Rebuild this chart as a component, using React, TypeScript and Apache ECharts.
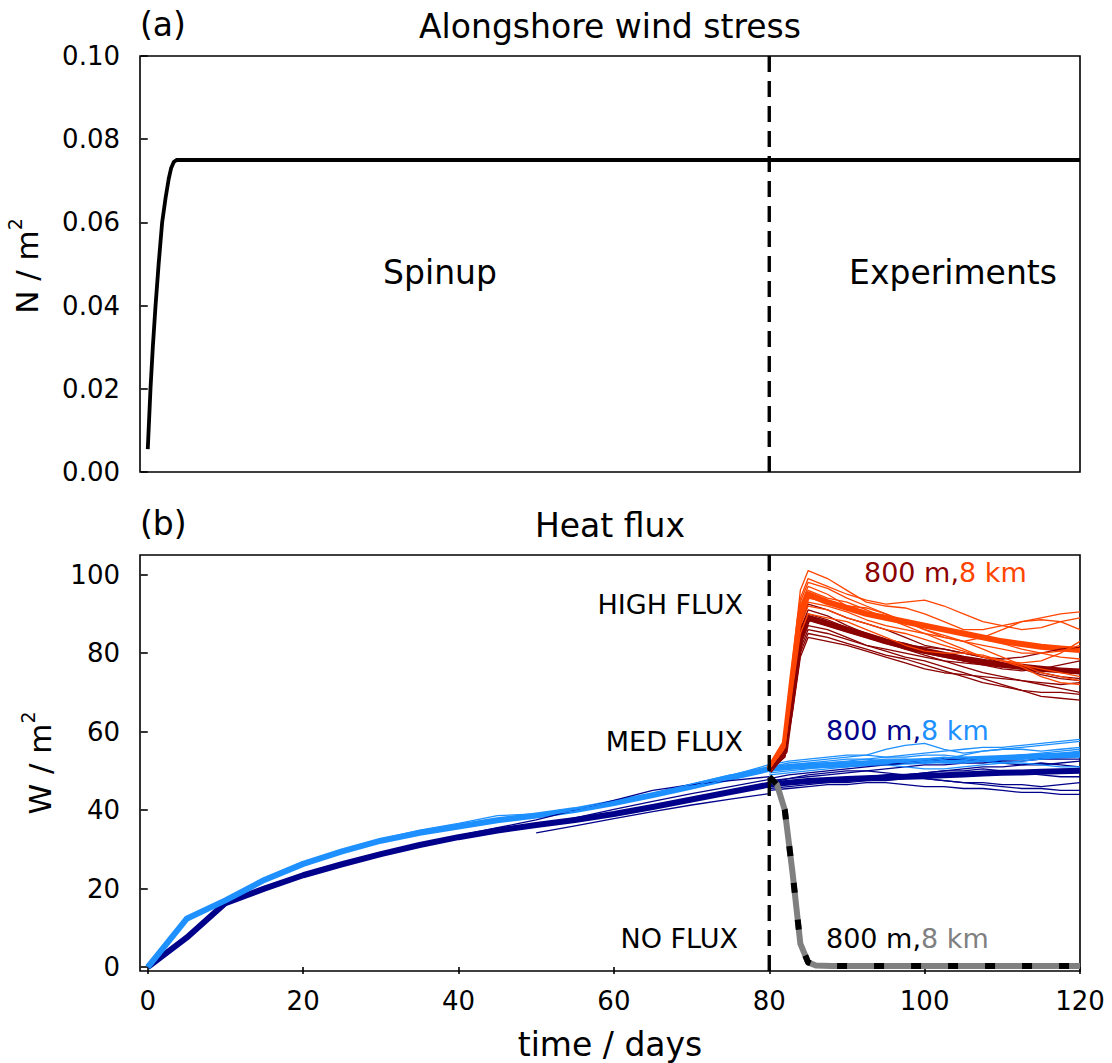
import React, { useEffect, useRef } from "react";
import * as echarts from "echarts";

const FONT = "DejaVu Sans";

// ---------- Panel (a): alongshore wind stress ----------
const windDays = [0, 0.35, 0.65, 1.0, 1.4, 1.85, 2.3, 2.7, 3.0, 3.35, 3.7, 4, 120];
const windStress = [0.0055, 0.02, 0.03, 0.04, 0.05, 0.06, 0.066, 0.0705, 0.073, 0.0745, 0.075, 0.075, 0.075];
const windTicks = [0, 0.02, 0.04, 0.06, 0.08, 0.1];

// ---------- Panel (b): heat flux ----------
const dayTicks = [0, 20, 40, 60, 80, 100, 120];
const fluxTicks = [0, 20, 40, 60, 80, 100];

// spin-up (days 0-80)
const spinDays = [0, 5, 10, 15, 20, 25, 30, 35, 40, 45, 50, 55, 60, 65, 70, 75, 80];
const spin8km = [0, 12.3, 17, 22.2, 26.3, 29.5, 32.2, 34.2, 35.8, 37.4, 38.6, 40, 41.8, 43.8, 46, 48.3, 50.5];
const spin800m = [0, 7.5, 16.3, 20, 23.4, 26.2, 28.8, 31.1, 33.1, 34.8, 36.2, 37.5, 39, 40.8, 42.7, 44.6, 46.5];

const spinDays30 = [30, 35, 40, 45, 50, 55, 60, 65, 70, 75, 80];
const spinDays50 = [50, 55, 60, 65, 70, 75, 80];
const spin8kmA = [32.6, 34.9, 36.6, 38.6, 39, 40.2, 41.6, 43.4, 46, 48.8, 51.6];
const spin8kmB = [32, 34, 36, 37.6, 38.6, 40.3, 42.2, 44.2, 46.6, 49, 50];
const spin8kmC = [38.5, 39.8, 41.5, 43.5, 45.6, 48, 50.2];
const spin800mA = [28.8, 31.3, 33.5, 35.5, 37.5, 40, 42.5, 45, 46.5, 47.5, 48.5];
const spin800mB = [34.2, 36, 37.8, 39.6, 41.3, 42.8, 44.2];
const spin800mC = [28.5, 30.8, 32.8, 34.4, 35.8, 37.2, 38.6, 40.4, 42.4, 44.4, 46];
const spin800mD = [36, 38, 40.2, 42.2, 44.2, 46, 47.8];

// MED FLUX experiments (days 80-120)
const medDays = [80, 82.5, 85, 87.5, 90, 92.5, 95, 97.5, 100, 102.5, 105, 107.5, 110, 112.5, 115, 117.5, 120];
const med8km = [50.5, 51, 51.3, 51.5, 51.7, 51.9, 52.1, 52.3, 52.5, 52.7, 52.9, 53.1, 53.3, 53.5, 53.7, 53.9, 54.1];
const med800m = [46.5, 47, 47.4, 47.7, 47.9, 48.1, 48.3, 48.5, 48.7, 48.9, 49.1, 49.3, 49.5, 49.6, 49.8, 49.9, 50];
const med8kmMembers = [
  [51, 52, 52.5, 53, 53.5, 54, 55.5, 56.5, 57, 55.5, 54.5, 55, 55.5, 56, 56.5, 57, 57.5],
  [50, 51, 51.5, 52, 52.5, 53, 53.5, 54, 54.5, 55, 55.5, 56, 56, 56.5, 57, 57.5, 58],
  [49.5, 50, 50.5, 51, 51, 51.5, 52, 52.5, 53, 53.5, 53, 52.5, 52, 52.5, 53, 53.5, 54],
  [50.5, 51.5, 52, 52.5, 53, 53, 52.5, 52, 52.5, 53, 54, 55, 55.5, 55.5, 55, 55.5, 56],
  [49, 49.5, 50, 50.5, 51, 51.5, 51.5, 51, 50.5, 50.5, 51, 51.5, 52, 52, 51.5, 51, 51],
  [51.5, 52.5, 53, 53.5, 54, 54, 53.5, 53.5, 54, 54, 53.5, 53, 53.5, 54, 54.5, 55, 55.5],
  [50, 50.5, 51, 51.5, 52, 52.5, 53, 53, 52.5, 52, 52, 52.5, 53, 53.5, 54, 54.5, 55],
];
const med800mMembers = [
  [46, 46.5, 47, 47, 47.5, 48, 48, 48.5, 48, 47.5, 47, 46.5, 46, 45.5, 45.5, 45, 45],
  [47, 48, 48.5, 49, 49.5, 50, 50.5, 51, 51.5, 51.5, 52, 52, 52.5, 52.5, 53, 53, 53],
  [45.5, 46, 46.5, 47, 47, 47.5, 47.5, 48, 48, 47.5, 47, 47, 46.5, 46.5, 46, 46.5, 47],
  [47.5, 48, 49, 49.5, 50, 50, 49.5, 49, 49.5, 50, 50.5, 51, 51, 51.5, 52, 51.5, 51],
  [46.5, 47, 47.5, 48, 48, 48.5, 49, 49, 49.5, 50, 50, 50.5, 50, 49.5, 49, 48.5, 48.5],
  [48, 49, 49.5, 50, 50.5, 51, 51.5, 52, 52.5, 53, 53, 52.5, 52, 51.5, 51.5, 52, 52.5],
  [45, 45.5, 46, 46.5, 46.5, 47, 47, 46.5, 46, 46, 45.5, 45.5, 45, 44.5, 44.5, 44, 44],
];

// HIGH FLUX experiments
const highDays = [80, 82, 83, 84, 85, 87.5, 90, 92.5, 95, 97.5, 100, 102.5, 105, 107.5, 110, 112.5, 115, 117.5, 120];
const high8km = [50.5, 57, 74, 90, 95, 93, 91.5, 90, 89, 88, 87, 86, 85, 84, 83, 82.3, 81.6, 81.2, 80.8];
const high800m = [50, 55, 70, 84, 89, 87.5, 86, 84.5, 83, 81.8, 80.6, 79.6, 78.6, 77.8, 77, 76.5, 76, 75.6, 75.3];
const high8kmMembers = [
  [50.5, 58, 78, 96, 101, 99, 96, 93, 92, 91.5, 90, 88, 86, 86, 87, 88, 89, 90, 90.5],
  [50.5, 57, 76, 94, 99, 97, 95, 93.5, 92.5, 93, 93.5, 92, 90, 88, 87, 86, 86.5, 88, 89],
  [50.5, 57, 75, 92, 97, 95, 92, 90, 89, 88, 86, 84, 83, 84, 86, 88, 88.5, 88, 86],
  [50.5, 56.5, 74, 91, 96, 94, 93, 91, 89, 87, 85, 83, 81, 79, 78, 77.5, 78, 80, 83],
  [50.5, 56.5, 73, 89, 94, 93, 92, 91.5, 90, 88, 86, 84.5, 83, 81, 79, 77, 75, 74, 73],
  [50.5, 56, 72, 87, 92, 91, 89, 87.5, 86, 85, 83.5, 82, 80.5, 79, 78, 77, 76, 75, 74],
  [50.5, 56, 71, 85, 90, 89, 88, 86, 84, 82, 80.5, 80, 80, 79.5, 78, 76.5, 74, 72.5, 72],
  [50.5, 57, 76, 93, 98, 96.5, 94, 92, 90, 88, 87, 86, 85, 84, 82.5, 81, 80, 80.5, 82],
  [50.5, 56.5, 73, 88, 93, 92, 90.5, 88.5, 87, 86, 85, 84, 83, 82, 81, 80, 80, 79, 78.5],
];
const high800mMembers = [
  [50, 55, 71, 87, 92.5, 91, 89, 87.5, 86, 84, 82, 81, 80, 79, 78.5, 79, 80, 81, 81.5],
  [50, 55, 70, 86, 91, 89.5, 87, 85, 83.5, 82.5, 81, 79.5, 78, 77, 76, 75.5, 76, 77, 78],
  [50, 54.5, 69, 85, 90, 88.5, 86.5, 85, 83, 81, 79.5, 78, 76.5, 75, 74, 73, 72.5, 72, 72.5],
  [50, 54.5, 68, 83, 88.5, 87, 85.5, 84, 82.5, 81, 80, 79, 78, 77.5, 77, 76, 75, 74, 73.5],
  [50, 54, 67, 82, 87, 86, 84, 82, 80.5, 79, 78, 76.5, 75, 73.5, 72, 70.5, 69, 68.5, 68],
  [50, 54, 67, 81, 86, 85, 83.5, 82, 81, 80, 79, 78, 77.5, 77, 76.5, 76, 75.5, 75.5, 75],
  [50, 53.5, 66, 80, 85, 84, 82.5, 81, 79.5, 78.5, 77, 75.5, 74, 72.5, 71.5, 70.5, 70, 70, 69.5],
  [50, 55, 70, 85, 89.5, 88, 86, 84.5, 83, 82, 81.5, 81, 80, 79, 77.5, 76, 74.5, 73.5, 73],
  [50, 53.5, 65, 79, 84, 83, 82, 80.5, 79, 77.5, 76, 75, 74.5, 74, 73.5, 73, 72, 71, 70],
];

// NO FLUX experiments
const noDays = [80, 81, 82, 83, 84, 85, 86, 88, 120];
const noFlux = [48.5, 46.5, 40, 24, 6, 1.2, 0.4, 0.3, 0.3];

// colours
const C_DARKBLUE = "#00008B";
const C_BLUE = "#1E90FF";
const C_DARKRED = "#8B0000";
const C_ORANGE = "#FF4500";
const C_GRAY = "#808080";

const xy = (xs: number[], ys: number[]) => xs.map((x, i) => [x, ys[i]]);

function ln(grid: number, xs: number[], ys: number[], color: string, width: number, dash?: number[], z = 2) {
  return {
    type: "line",
    xAxisIndex: grid,
    yAxisIndex: grid,
    data: xy(xs, ys),
    symbol: "none",
    showSymbol: false,
    silent: true,
    z,
    clip: true,
    emphasis: { disabled: true },
    lineStyle: {
      color,
      width,
      type: dash ? dash : "solid",
      join: "round",
      cap: "butt",
    },
  };
}

function buildOption() {
  const series: any[] = [];
  // panel a
  series.push(ln(0, windDays, windStress, "#000", 3.8));
  series.push(ln(0, [80, 80], [0, 0.1], "#000", 3.4, [16, 9], 5));

  // panel b: spinup thick
  series.push(ln(1, spinDays, spin800m, C_DARKBLUE, 6));
  series.push(ln(1, spinDays, spin8km, C_BLUE, 6));
  // med thick
  series.push(ln(1, medDays, med800m, C_DARKBLUE, 6));
  series.push(ln(1, medDays, med8km, C_BLUE, 6));
  // spinup thin
  series.push(ln(1, spinDays30, spin800mA, C_DARKBLUE, 1.3));
  series.push(ln(1, spinDays50, spin800mB, C_DARKBLUE, 1.3));
  series.push(ln(1, spinDays30, spin800mC, C_DARKBLUE, 1.3));
  series.push(ln(1, spinDays50, spin800mD, C_DARKBLUE, 1.3));
  series.push(ln(1, spinDays30, spin8kmA, C_BLUE, 1.3));
  series.push(ln(1, spinDays30, spin8kmB, C_BLUE, 1.3));
  series.push(ln(1, spinDays50, spin8kmC, C_BLUE, 1.3));
  // med thin
  med800mMembers.forEach((m) => series.push(ln(1, medDays, m, C_DARKBLUE, 1.3)));
  med8kmMembers.forEach((m) => series.push(ln(1, medDays, m, C_BLUE, 1.3)));
  // high thick
  series.push(ln(1, highDays, high800m, C_DARKRED, 6));
  series.push(ln(1, highDays, high8km, C_ORANGE, 6));
  // high thin
  high800mMembers.forEach((m) => series.push(ln(1, highDays, m, C_DARKRED, 1.3)));
  high8kmMembers.forEach((m) => series.push(ln(1, highDays, m, C_ORANGE, 1.3)));
  // no flux
  series.push(ln(1, noDays, noFlux, C_GRAY, 6));
  series.push(ln(1, noDays, noFlux, "#000", 6, [10, 27]));
  // vertical dashed
  series.push(ln(1, [80, 80], [-1, 105], "#000", 3.4, [16, 9], 5));

  const tickLabel = { color: "#000", fontFamily: FONT, fontSize: 26 };
  const tick = { show: true, inside: false, length: 7, lineStyle: { color: "#000", width: 1.6 } };

  const txt = (x: number, y: number, text: string, size: number, align = "center", color = "#000") => ({
    type: "text",
    x,
    y,
    silent: true,
    style: {
      text,
      fill: color,
      fontFamily: FONT,
      fontSize: size,
      align,
      verticalAlign: "middle",
    },
  });

  const pairLabel = (x: number, y: number, c1: string, c2: string) => ({
    type: "text",
    x,
    y,
    silent: true,
    style: {
      text: "{a|800 m,}{b|8 km}",
      fontFamily: FONT,
      fontSize: 27,
      align: "left",
      verticalAlign: "middle",
      rich: {
        a: { fill: c1, fontFamily: FONT, fontSize: 27 },
        b: { fill: c2, fontFamily: FONT, fontSize: 27 },
      },
    },
  });

  const yName = (x: number, y: number, base: string) => ({
    type: "text",
    x,
    y,
    rotation: Math.PI / 2,
    silent: true,
    style: {
      text: `{a|${base}}{s|2}`,
      fontFamily: FONT,
      fontSize: 31,
      align: "center",
      verticalAlign: "middle",
      fill: "#000",
      rich: {
        a: { fill: "#000", fontFamily: FONT, fontSize: 31 },
        s: { fill: "#000", fontFamily: FONT, fontSize: 19, padding: [0, 0, 24, 0] },
      },
    },
  });

  return {
    animation: false,
    backgroundColor: "#fff",
    grid: [
      { left: 140, top: 56, width: 940, height: 416, show: true, borderColor: "#000", borderWidth: 1.6, backgroundColor: "transparent" },
      { left: 140, top: 555, width: 940, height: 416, show: true, borderColor: "#000", borderWidth: 1.6, backgroundColor: "transparent" },
    ],
    xAxis: [
      {
        type: "value",
        gridIndex: 0,
        min: -1,
        max: 120,
        axisLine: { show: false },
        axisTick: { show: false },
        axisLabel: { show: false },
        splitLine: { show: false },
      },
      {
        type: "value",
        gridIndex: 1,
        min: -1,
        max: 120,
        axisLine: { show: false },
        axisTick: { ...tick, customValues: dayTicks },
        axisLabel: { ...tickLabel, margin: 17, customValues: dayTicks },
        splitLine: { show: false },
      },
    ],
    yAxis: [
      {
        type: "value",
        gridIndex: 0,
        min: 0,
        max: 0.1,
        interval: 0.02,
        axisLine: { show: false },
        axisTick: tick,
        axisLabel: { ...tickLabel, margin: 20, formatter: (v: number) => v.toFixed(2), customValues: windTicks },
        splitLine: { show: false },
      },
      {
        type: "value",
        gridIndex: 1,
        min: -1,
        max: 105,
        axisLine: { show: false },
        axisTick: { ...tick, customValues: fluxTicks },
        axisLabel: { ...tickLabel, margin: 20, customValues: fluxTicks },
        splitLine: { show: false },
      },
    ],
    graphic: [
      txt(140, 24, "(a)", 33, "left"),
      txt(610, 26, "Alongshore wind stress", 33),
      txt(140, 523, "(b)", 33, "left"),
      txt(610, 525, "Heat flux", 33),
      txt(440, 272, "Spinup", 33),
      txt(953, 272, "Experiments", 33),
      txt(743, 604, "HIGH FLUX", 27, "right"),
      txt(743, 741, "MED FLUX", 27, "right"),
      txt(738, 938, "NO FLUX", 27, "right"),
      pairLabel(864, 572, C_DARKRED, C_ORANGE),
      pairLabel(826, 730, C_DARKBLUE, C_BLUE),
      pairLabel(826, 938, "#000", C_GRAY),
      yName(27, 266, "N / m"),
      yName(40, 763, "W / m"),
      txt(610, 1044, "time / days", 33),
    ],
    series,
  };
}

export default function App() {
  const ref = useRef<HTMLDivElement>(null);
  useEffect(() => {
    document.body.style.margin = "0";
    const chart = echarts.init(ref.current as HTMLDivElement, null, { renderer: "svg" });
    chart.setOption(buildOption() as any);
    return () => chart.dispose();
  }, []);
  return <div ref={ref} style={{ width: 1112, height: 1063, background: "#fff" }} />;
}
